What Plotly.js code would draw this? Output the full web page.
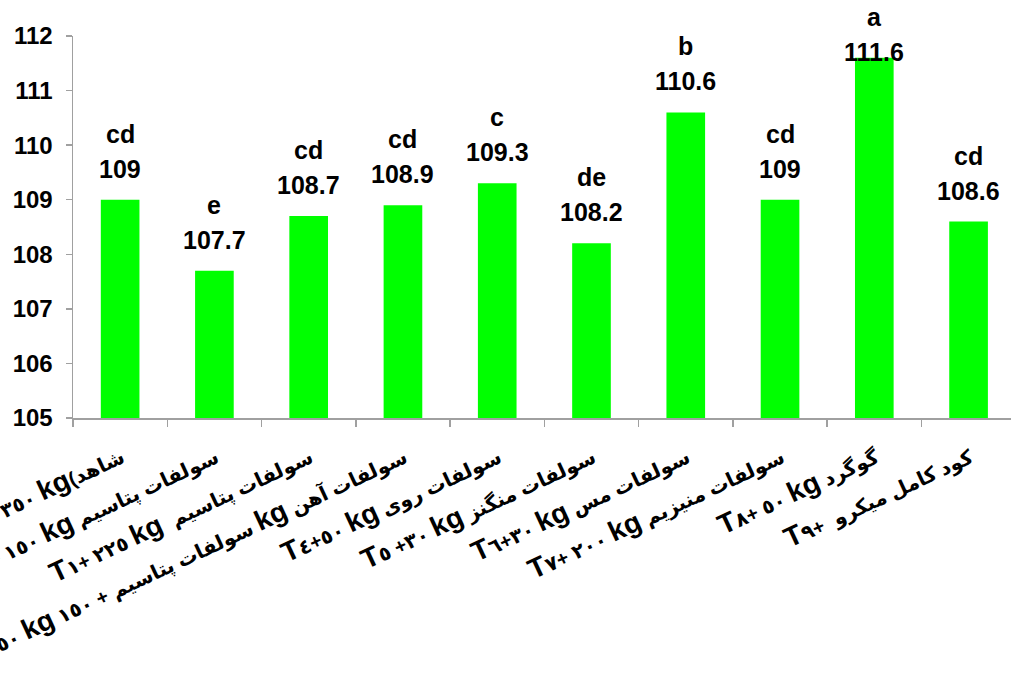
<!DOCTYPE html>
<html>
<head>
<meta charset="utf-8">
<script src="https://cdn.plot.ly/plotly-3.0.1.min.js"></script>
<style>
  html, body { margin: 0; padding: 0; background: #fff; overflow: hidden; }
  #chart { width: 1011px; height: 673px; }
</style>
</head>
<body>
<div id="chart"></div>
<script>
// Left-to-right mark: keeps digits and "+" in reading order next to Persian words
const M = '\u200E';

// Treatment labels
const categories = [
  `٣٥٠${M} kg(شاهد`,
  `T١${M} + ١٥٠${M} kg سولفات پتاسیم`,
  `T١${M}+ ٢٢٥${M} kg  سولفات پتاسیم`,
  `T١${M}+ ٥٠${M} kg ١٥٠${M} + سولفات پتاسیم kg سولفات آهن`,
  `T٤${M}+٥٠${M} kg سولفات روی`,
  `T٥${M} +٣٠${M} kg سولفات منگنز`,
  `T٦${M}+٣٠${M} kg سولفات مس`,
  `T٧${M}+ ٢٠٠${M} kg سولفات منیزیم`,
  `T٨${M}+ ٥٠${M} kg گوگرد`,
  `T٩${M}+  کود کامل میکرو`
];

// Mean values per treatment
const values = [109, 107.7, 108.7, 108.9, 109.3, 108.2, 110.6, 109, 111.6, 108.6];

// Mean-comparison letters
const letters = ['cd', 'e', 'cd', 'cd', 'c', 'de', 'b', 'cd', 'a', 'cd'];

// Y axis ticks
const yTicks = [105, 106, 107, 108, 109, 110, 111, 112];

// Latin letters large, Persian text / digits smaller
function styleLabel(s) {
  return s.replace(/[^A-Za-z]+/g, m => `<span style="font-size:20px">${m}</span>`);
}

const W = 1011, H = 673;
const mTop = 36, mBottom = 255, mLeft = 73;
const plotH = H - mTop - mBottom;
const yMin = 105, yMax = 112;

const labelFont = {family: 'Liberation Sans, Arial, sans-serif', size: 25, color: '#000', weight: 'bold'};

const annotations = [];
values.forEach((v, i) => {
  const barTop = mTop + (yMax - v) / (yMax - yMin) * plotH;
  const valueCenter = Math.max(barTop - 31, 52);
  const shift = barTop - valueCenter;
  annotations.push({
    x: categories[i], y: v, xref: 'x', yref: 'y',
    text: String(v), showarrow: false, yanchor: 'middle', yshift: shift,
    font: labelFont
  });
  annotations.push({
    x: categories[i], y: v, xref: 'x', yref: 'y',
    text: letters[i], showarrow: false, yanchor: 'middle', yshift: shift + 35,
    font: labelFont
  });
});

const trace = {
  type: 'bar',
  x: categories,
  y: values,
  marker: {color: '#00ff00', line: {width: 0}},
  hoverinfo: 'skip'
};

const layout = {
  width: W, height: H,
  margin: {l: mLeft, r: 0, t: mTop, b: mBottom, pad: 0},
  paper_bgcolor: '#fff', plot_bgcolor: '#fff',
  showlegend: false,
  bargap: 0.59,
  xaxis: {
    type: 'category',
    range: [-0.5, 9.45],
    tickvals: categories,
    ticktext: categories.map(styleLabel),
    tickangle: -25,
    ticks: 'outside', tickson: 'boundaries', ticklen: 7, tickwidth: 1.5, tickcolor: '#a0a0a0',
    showline: true, linecolor: '#a0a0a0', linewidth: 1.5,
    showgrid: false, zeroline: false,
    automargin: false,
    ticklabelstandoff: 10,
    tickfont: {family: 'Liberation Sans, DejaVu Sans, sans-serif', size: 28, color: '#000', weight: 'bold'}
  },
  yaxis: {
    range: [yMin, yMax],
    tickvals: yTicks,
    ticktext: yTicks.map(String),
    ticks: 'outside', ticklen: 6, tickwidth: 1.5, tickcolor: '#a0a0a0',
    showline: true, linecolor: '#a0a0a0', linewidth: 1.5,
    showgrid: false, zeroline: false,
    automargin: false,
    ticklabelstandoff: 8,
    tickfont: {family: 'Liberation Sans, Arial, sans-serif', size: 24, color: '#000', weight: 'bold'}
  },
  annotations: annotations
};

Plotly.newPlot('chart', [trace], layout, {displayModeBar: false, staticPlot: true});
</script>
</body>
</html>
